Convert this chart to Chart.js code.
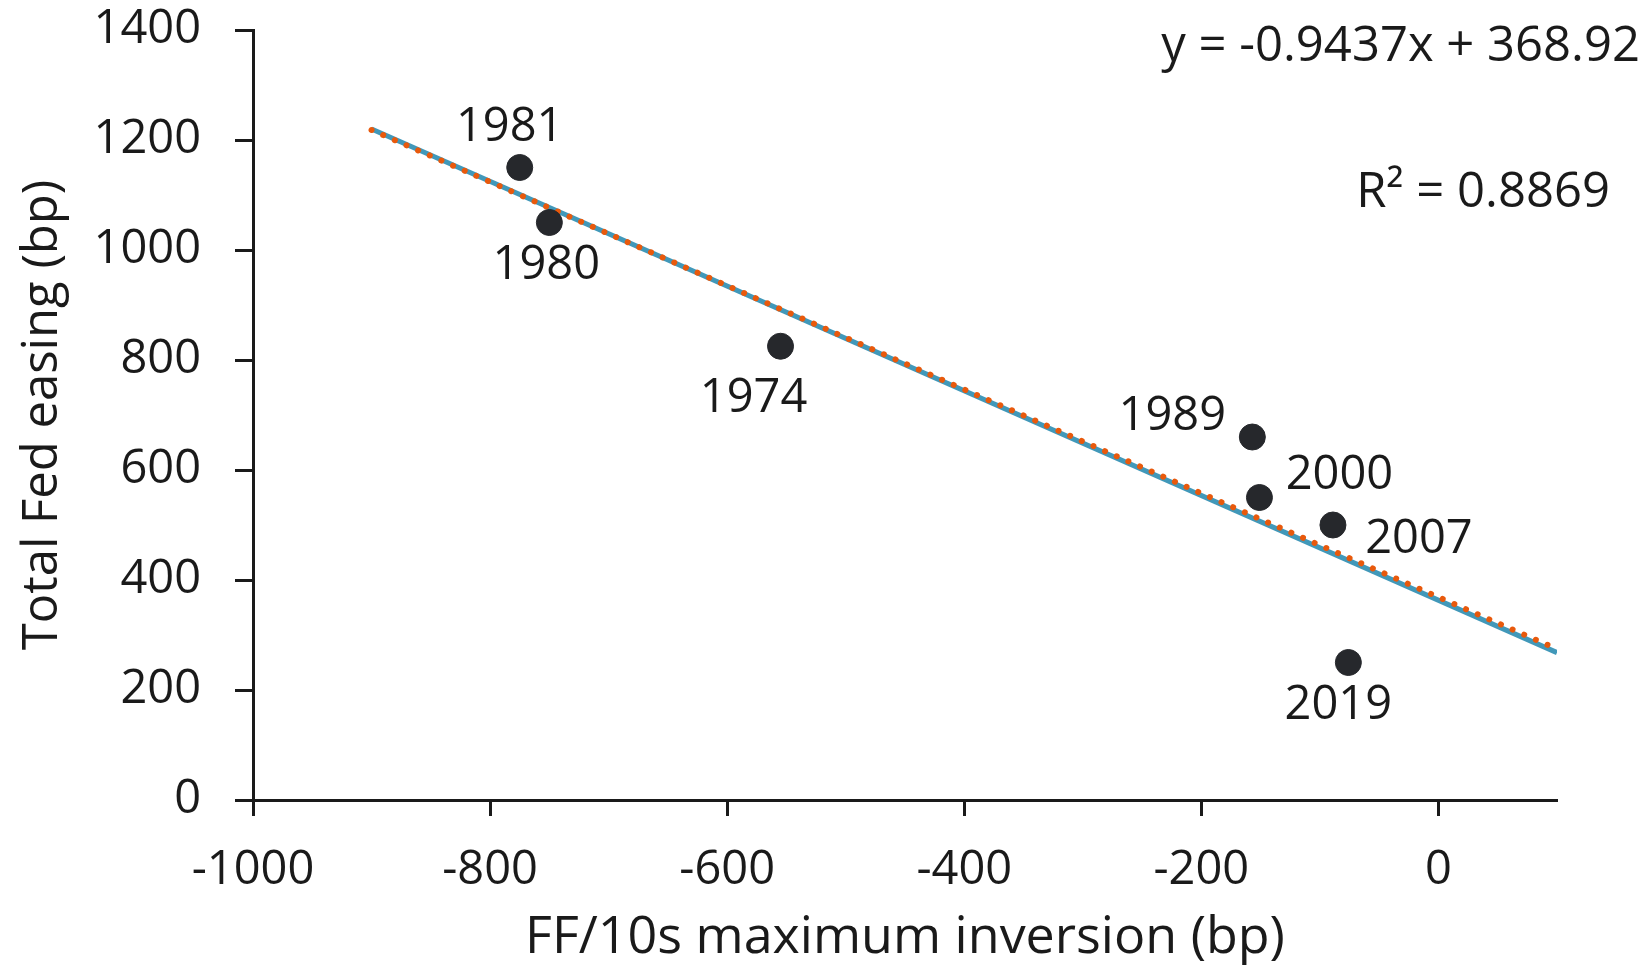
<!DOCTYPE html>
<html>
<head>
<meta charset="utf-8">
<script src="https://cdn.jsdelivr.net/npm/chart.js@4.4.1/dist/chart.umd.min.js"></script>
<style>
  html, body { margin: 0; padding: 0; background: #fff; }
  #wrap { width: 1642px; height: 966px; }
</style>
</head>
<body>
<div id="wrap"><canvas id="myChart"></canvas></div>
<script>
// episodes: year, FF/10s max inversion (bp), total Fed easing (bp)
const years = ['1981', '1980', '1974', '1989', '2000', '2007', '2019'];
const inversion = [-775, -750, -555, -157, -151, -89, -76];
const easing = [1150, 1050, 825, 660, 550, 500, 250];

// trend lines (start/end x, y)
const trendX = [-900, 100];
const trendOrange = [1218.2, 274.5];   // y = -0.9437x + 368.92
const trendBlue = [1220, 268];

const xTicks = [-1000, -800, -600, -400, -200, 0];
const yTicks = [0, 200, 400, 600, 800, 1000, 1200, 1400];

// label offsets in px relative to the point
const labelOffsets = {
    '1981': [-10, -40], '1980': [-3, 43], '1974': [-27, 52], '1989': [-80, -20],
    '2000': [80, -22], '2007': [86, 15], '2019': [-10, 43]
};

const FONT = '"Open Sans", Lato, sans-serif';
const INK = '#1a1a1a';

const labelsPlugin = {
    id: 'pointLabels',
    afterDatasetsDraw(chart) {
        const ctx = chart.ctx;
        const meta = chart.getDatasetMeta(0);
        ctx.save();
        ctx.font = '47px ' + FONT;
        ctx.fillStyle = INK;
        ctx.textAlign = 'center';
        ctx.textBaseline = 'middle';
        meta.data.forEach((pt, i) => {
            const off = labelOffsets[years[i]];
            ctx.fillText(years[i], pt.x + off[0], pt.y + off[1]);
        });
        // regression text
        ctx.font = '49px ' + FONT;
        ctx.textAlign = 'right';
        ctx.fillText('y = -0.9437x + 368.92', 1640, 47);
        ctx.fillText('R\u00B2 = 0.8869', 1610, 193);
        ctx.restore();
    }
};

const ctx = document.getElementById('myChart').getContext('2d');
new Chart(ctx, {
    type: 'scatter',
    data: {
        datasets: [
            {
                label: 'Episodes',
                data: inversion.map((x, i) => ({ x: x, y: easing[i] })),
                backgroundColor: '#26282c',
                borderColor: '#26282c',
                pointRadius: 13,
                pointHoverRadius: 13
            },
            {
                label: 'Linear (orange)',
                type: 'line',
                data: trendX.map((x, i) => ({ x: x, y: trendOrange[i] })),
                borderColor: '#e8590c',
                borderWidth: 6,
                borderDash: [0.01, 12.7],
                borderCapStyle: 'round',
                pointRadius: 0,
                fill: false
            },
            {
                label: 'Linear (blue)',
                type: 'line',
                data: trendX.map((x, i) => ({ x: x, y: trendBlue[i] })),
                borderColor: '#4198b9',
                borderWidth: 5,
                pointRadius: 0,
                fill: false
            }
        ]
    },
    options: {
        responsive: true,
        maintainAspectRatio: false,
        animation: false,
        events: [],
        layout: { padding: { top: 30, right: 85, left: 0, bottom: 0 } },
        plugins: {
            legend: { display: false },
            tooltip: { enabled: false }
        },
        scales: {
            x: {
                type: 'linear',
                min: -1000,
                max: 100,
                afterBuildTicks: s => { s.ticks = xTicks.map(v => ({ value: v })); },
                afterFit: s => { s.height = 166; s.paddingLeft = 0; s.paddingRight = 0; },
                grid: { drawOnChartArea: false, tickLength: 16, tickWidth: 3, color: INK },
                border: { color: INK, width: 3 },
                ticks: { color: INK, font: { family: FONT, size: 47 }, padding: 26, maxRotation: 0,
                         callback: v => String(v) },
                title: {
                    display: true,
                    text: 'FF/10s maximum inversion (bp)',
                    color: INK,
                    font: { family: FONT, size: 52, lineHeight: 1.0 },
                    padding: { top: 0, bottom: 2 }
                }
            },
            y: {
                type: 'linear',
                min: 0,
                max: 1400,
                afterBuildTicks: s => { s.ticks = yTicks.map(v => ({ value: v })); },
                afterFit: s => { s.width = 253; s.paddingTop = 0; s.paddingBottom = 0; },
                grid: { drawOnChartArea: false, tickLength: 18, tickWidth: 3, color: INK },
                border: { color: INK, width: 3 },
                ticks: { color: INK, font: { family: FONT, size: 47 }, padding: 34,
                         callback: v => String(v) },
                title: {
                    display: true,
                    text: 'Total Fed easing (bp)',
                    color: INK,
                    font: { family: FONT, size: 49, lineHeight: 1.0 },
                    padding: { top: 19, bottom: 0 }
                }
            }
        }
    },
    plugins: [labelsPlugin]
});
</script>
</body>
</html>
